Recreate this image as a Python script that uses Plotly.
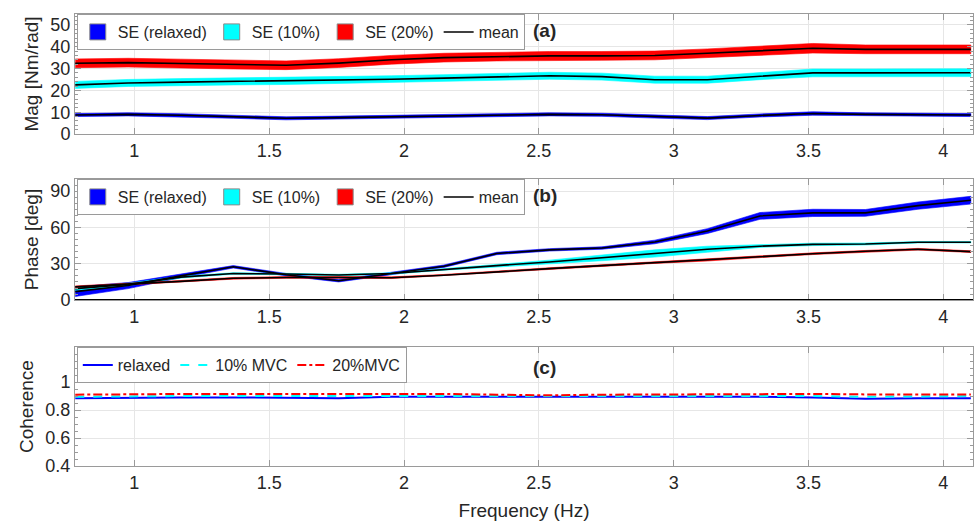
import plotly.graph_objects as go

# ---------------- data ----------------
freq = [0.781, 0.977, 1.172, 1.367, 1.563, 1.758, 1.953, 2.148, 2.344,
        2.539, 2.734, 2.930, 3.125, 3.320, 3.516, 3.711, 3.906, 4.102]

# (a) magnitude [Nm/rad]: mean and standard error
mag_relaxed = [8.7, 9.0, 8.6, 7.9, 7.2, 7.5, 7.9, 8.2, 8.6, 9.0, 8.8, 8.0, 7.3, 8.5, 9.4, 9.0, 8.8, 8.7]
mag_relaxed_se = [0.7, 0.7, 0.7, 0.7, 0.7, 0.7, 0.7, 0.7, 0.7, 0.7, 0.7, 0.7, 0.7, 0.7, 0.8, 0.7, 0.7, 0.7]
mag_10 = [22.5, 23.4, 23.8, 24.1, 24.3, 24.6, 25.1, 25.6, 26.2, 26.7, 26.3, 24.9, 24.9, 26.6, 28.0, 28.0, 28.0, 28.1]
mag_10_se = [1.6, 1.6, 1.6, 1.6, 1.6, 1.6, 1.6, 1.6, 1.6, 1.6, 1.6, 1.6, 1.6, 1.7, 1.8, 1.8, 1.8, 1.8]
mag_20 = [32.4, 32.7, 32.3, 31.8, 31.5, 32.5, 34.0, 35.0, 35.5, 35.8, 35.8, 36.0, 37.0, 38.2, 39.3, 38.8, 38.7, 38.8]
mag_20_se = [2.0, 2.0, 2.0, 2.0, 2.0, 2.0, 2.0, 2.0, 2.0, 2.0, 2.0, 2.0, 2.0, 2.1, 2.2, 2.0, 2.0, 2.0]

# (b) phase [deg]
ph_relaxed = [7, 12, 20, 27.5, 21, 16, 22, 28, 38.5, 41.5, 43, 48, 57, 69.5, 72, 72, 78, 82.5]
ph_relaxed_se = [4, 2.5, 1.5, 1, 1, 1, 1, 1, 1, 1, 1, 1.5, 2, 2.8, 3, 2.8, 3, 3.2]
ph_10 = [9.5, 13, 19, 22, 21.5, 20.7, 22, 25.5, 28.5, 31.5, 35, 38.5, 42, 44.5, 46, 46.3, 47.8, 47.8]
ph_10_se = [1.5, 1, 0.8, 0.6, 0.6, 0.6, 0.6, 0.8, 1, 1.5, 2.5, 3, 2.5, 1, 1, 0.8, 0.6, 0.6]
ph_20 = [11, 13, 15.5, 18, 18.7, 18.7, 18.5, 20.5, 23.4, 26, 28.5, 31, 33, 35.8, 38.3, 40.3, 42, 40]
ph_20_se = [0.7] * 18

# (c) coherence
coh_relaxed = [0.885, 0.89, 0.89, 0.89, 0.885, 0.885, 0.895, 0.895, 0.893, 0.893, 0.895, 0.895, 0.897, 0.895, 0.89, 0.88, 0.885, 0.885]
coh_10 = [0.895, 0.9, 0.9, 0.9, 0.9, 0.905, 0.905, 0.9, 0.9, 0.9, 0.902, 0.905, 0.905, 0.905, 0.9, 0.895, 0.897, 0.9]
coh_20 = [0.91, 0.915, 0.915, 0.915, 0.915, 0.918, 0.92, 0.915, 0.91, 0.905, 0.91, 0.912, 0.915, 0.918, 0.915, 0.912, 0.912, 0.912]

band_names = ["SE (relaxed)", "SE (10%)", "SE (20%)"]
coh_names = ["relaxed", "10% MVC", "20%MVC"]
x_ticks = [1, 1.5, 2, 2.5, 3, 3.5, 4]
x_ticktext = ["1", "1.5", "2", "2.5", "3", "3.5", "4"]
mag_ticks = [0, 10, 20, 30, 40, 50]
ph_ticks = [0, 30, 60, 90]
coh_ticks = [0.4, 0.6, 0.8, 1.0]
coh_ticktext = ["0.4", "0.6", "0.8", "1"]

# ---------------- style ----------------
FONT = "Liberation Sans, Arial, Helvetica, sans-serif"
COLORS = ["#0000ff", "#00ffff", "#ff0000"]
AXC = "#9a9a9a"
GRIDC = "#e6e6e6"
TXT = "#262626"

fig = go.Figure()


def add_band(mean, se, color, xa, ya):
    up = [m + s for m, s in zip(mean, se)]
    lo = [m - s for m, s in zip(mean, se)]
    fig.add_trace(go.Scatter(
        x=freq + freq[::-1], y=up + lo[::-1], fill="toself", fillcolor=color,
        mode="lines", line=dict(color=color, width=0.6), hoverinfo="skip",
        showlegend=False, xaxis=xa, yaxis=ya))


def add_mean(mean, xa, ya):
    fig.add_trace(go.Scatter(
        x=freq, y=mean, mode="lines", line=dict(color="black", width=1.6),
        showlegend=False, xaxis=xa, yaxis=ya))


def add_legend_items(xa, ya, legend):
    for name, c in zip(band_names, COLORS):
        fig.add_trace(go.Scatter(
            x=[None], y=[None], mode="markers", name=name,
            marker=dict(symbol="square", size=16, color=c, line=dict(color="#8a8a8a", width=1)),
            xaxis=xa, yaxis=ya, legend=legend))
    fig.add_trace(go.Scatter(
        x=[None], y=[None], mode="lines", name="mean",
        line=dict(color="black", width=1.5), xaxis=xa, yaxis=ya, legend=legend))


# panel (a)
for m, s, c in zip([mag_relaxed, mag_10, mag_20], [mag_relaxed_se, mag_10_se, mag_20_se], COLORS):
    add_band(m, s, c, "x", "y")
for m in [mag_relaxed, mag_10, mag_20]:
    add_mean(m, "x", "y")
add_legend_items("x", "y", "legend")

# panel (b)
for m, s, c in zip([ph_relaxed, ph_10, ph_20], [ph_relaxed_se, ph_10_se, ph_20_se], COLORS):
    add_band(m, s, c, "x2", "y2")
for m in [ph_relaxed, ph_10, ph_20]:
    add_mean(m, "x2", "y2")
add_legend_items("x2", "y2", "legend2")

# panel (c)
for vals, name, c, dash in zip([coh_relaxed, coh_10, coh_20], coh_names, COLORS,
                               ["solid", "dash", "dashdot"]):
    fig.add_trace(go.Scatter(
        x=freq, y=vals, mode="lines", name=name,
        line=dict(color=c, width=2, dash=dash), xaxis="x3", yaxis="y3", legend="legend3"))

# ---------------- axes ----------------
xcommon = dict(range=[0.78, 4.11], tickvals=x_ticks, ticktext=x_ticktext,
               showline=True, linecolor=AXC, linewidth=1, mirror="ticks",
               ticks="inside", ticklen=6, tickcolor=AXC, showgrid=True,
               gridcolor=GRIDC, zeroline=False,
               tickfont=dict(family=FONT, size=18, color=TXT))
ycommon = dict(showline=True, linecolor=AXC, linewidth=1, mirror="ticks",
               ticks="inside", ticklen=6, tickcolor=AXC, showgrid=True,
               gridcolor=GRIDC, zeroline=False,
               tickfont=dict(family=FONT, size=18, color=TXT),
               title_font=dict(family=FONT, size=19, color=TXT), title_standoff=6)

dom_a = [0.7345, 1.0]
dom_b = [0.367, 0.635]
dom_c = [0.0, 0.263]

fig.update_layout(
    width=977, height=524,
    margin=dict(l=75, r=4, t=14, b=58),
    paper_bgcolor="white", plot_bgcolor="white",
    font=dict(family=FONT, size=17, color=TXT),
    xaxis=dict(**xcommon, anchor="y", domain=[0, 1]),
    xaxis2=dict(**xcommon, anchor="y2", domain=[0, 1]),
    xaxis3=dict(**xcommon, anchor="y3", domain=[0, 1],
                title=dict(text="Frequency (Hz)", font=dict(family=FONT, size=19, color=TXT), standoff=12)),
    yaxis=dict(**ycommon, anchor="x", domain=dom_a, range=[0, 55], tickvals=mag_ticks,
               title_text="Mag [Nm/rad]",
               minor=dict(dtick=2, tick0=0, ticks="inside", ticklen=3, tickcolor=AXC, showgrid=False)),
    yaxis2=dict(**ycommon, anchor="x2", domain=dom_b, range=[0, 100], tickvals=ph_ticks,
                title_text="Phase [deg]",
                minor=dict(dtick=5, tick0=0, ticks="inside", ticklen=3, tickcolor=AXC, showgrid=False)),
    yaxis3=dict(**ycommon, anchor="x3", domain=dom_c, range=[0.4, 1.25], tickvals=coh_ticks,
                ticktext=coh_ticktext, title_text="Coherence",
                minor=dict(dtick=0.05, tick0=0, ticks="inside", ticklen=3, tickcolor=AXC, showgrid=False)),
)

leg_common = dict(orientation="h", xanchor="left", yanchor="top", x=0.002,
                  bgcolor="white", bordercolor="#9a9a9a", borderwidth=1,
                  font=dict(family=FONT, size=16, color=TXT), itemwidth=30,
                  tracegroupgap=0, traceorder="normal")
fig.update_layout(
    legend=dict(**leg_common, y=dom_a[1]),
    legend2=dict(**leg_common, y=dom_b[1]),
    legend3=dict(**leg_common, y=dom_c[1]),
)

# dark zero line in phase panel
fig.add_shape(type="line", xref="x2 domain", yref="y2", x0=0, x1=1, y0=0, y1=0,
              line=dict(color="black", width=2))

for txt, yd in [("(a)", dom_a), ("(b)", dom_b), ("(c)", dom_c)]:
    fig.add_annotation(text="<b>%s</b>" % txt, xref="paper", yref="paper",
                       x=0.523, y=yd[1] - 0.037 * (1 if txt != "(c)" else 1.2),
                       showarrow=False, xanchor="center", yanchor="middle",
                       font=dict(family=FONT, size=19, color=TXT))

fig.write_html("out.html")
